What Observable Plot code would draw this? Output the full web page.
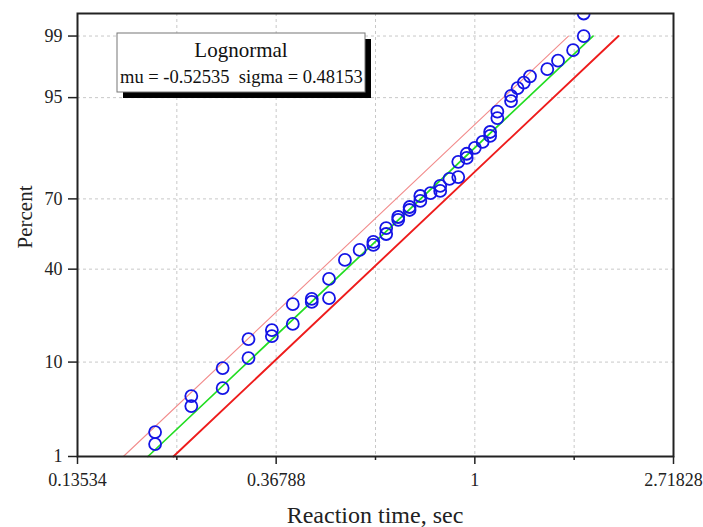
<!DOCTYPE html>
<html>
<head>
<meta charset="utf-8">
<script src="https://cdn.jsdelivr.net/npm/d3@7"></script>
<script src="https://cdn.jsdelivr.net/npm/@observablehq/plot@0.6"></script>
<style>
  html, body { margin: 0; padding: 0; background: #fff; }
  #chart { position: relative; width: 703px; height: 527px; }
</style>
</head>
<body>
<div id="chart"></div>
<script>
// ---- Data ----
const reactionTimes = [
  0.200, 0.200, 0.240, 0.240, 0.281, 0.281, 0.320, 0.320, 0.360, 0.360,
  0.400, 0.400, 0.440, 0.440, 0.480, 0.480, 0.520, 0.560, 0.600, 0.600,
  0.640, 0.640, 0.680, 0.680, 0.720, 0.720, 0.760, 0.760, 0.800, 0.840,
  0.840, 0.880, 0.920, 0.920, 0.960, 0.960, 1.000, 1.040, 1.080, 1.080,
  1.120, 1.120, 1.200, 1.200, 1.240, 1.280, 1.320, 1.440, 1.520, 1.640,
  1.730, 1.730
];
const percents = [
  1.43, 1.99, 3.85, 4.87, 5.83, 8.89, 10.8, 15.2, 16.0, 17.7,
  19.5, 26.1, 26.9, 28.0, 28.3, 35.9, 44.0, 48.4, 50.6, 51.9,
  55.4, 58.0, 61.5, 62.7, 65.6, 66.8, 69.2, 71.1, 72.2, 73.0,
  74.8, 77.2, 77.8, 82.5, 83.6, 84.7, 86.2, 87.6, 88.9, 89.7,
  92.2, 93.2, 94.6, 95.2, 96.0, 96.5, 97.0, 97.5, 98.0, 98.5,
  99.0, 99.5
];

// fitted lognormal line and the two parallel lines beside it
const lineNames  = ["lower", "fit", "upper"];
const lineMu     = [-0.649, -0.52535, -0.397];
const lineSigma  = [0.48153, 0.48153, 0.48153];
const lineRange  = [1, 99];          // percent range each line spans

const xTickValues = [Math.exp(-2), Math.exp(-1), 1, Math.exp(1)];
const xTickLabels = ["0.13534", "0.36788", "1", "2.71828"];
const xMinorTicks = [Math.exp(-1.5), Math.exp(-0.5), Math.exp(0.5)];
const yTickPercents = [1, 10, 40, 70, 95, 99];
const yDomainPercent = [1, 99.5];

const legendTitle = "Lognormal";
const legendText = "mu = -0.52535\u00A0\u00A0sigma = 0.48153";

// ---- helpers ----
function probit(p) {
  const a=[-3.969683028665376e+01,2.209460984245205e+02,-2.759285104469687e+02,1.383577518672690e+02,-3.066479806614716e+01,2.506628277459239e+00];
  const b=[-5.447609879822406e+01,1.615858368580409e+02,-1.556989798598866e+02,6.680131188771972e+01,-1.328068155288572e+01];
  const c=[-7.784894002430293e-03,-3.223964580411365e-01,-2.400758277161838e+00,-2.549671875111488e+00,4.374664141464968e+00,2.938163982698783e+00];
  const d=[7.784695709041462e-03,3.224671290700398e-01,2.445134137142996e+00,3.754408661907416e+00];
  const plow = 0.02425, phigh = 1 - plow;
  let q, r;
  if (p < plow) {
    q = Math.sqrt(-2 * Math.log(p));
    return (((((c[0]*q+c[1])*q+c[2])*q+c[3])*q+c[4])*q+c[5]) / ((((d[0]*q+d[1])*q+d[2])*q+d[3])*q+1);
  }
  if (p > phigh) {
    q = Math.sqrt(-2 * Math.log(1 - p));
    return -(((((c[0]*q+c[1])*q+c[2])*q+c[3])*q+c[4])*q+c[5]) / ((((d[0]*q+d[1])*q+d[2])*q+d[3])*q+1);
  }
  q = p - 0.5; r = q * q;
  return (((((a[0]*r+a[1])*r+a[2])*r+a[3])*r+a[4])*r+a[5])*q / (((((b[0]*r+b[1])*r+b[2])*r+b[3])*r+b[4])*r+1);
}
const z = (pct) => probit(pct / 100);

const points = reactionTimes.map((t, i) => ({t, z: z(percents[i])}));

const lineData = [];
lineNames.forEach((name, i) => {
  lineRange.forEach(pct => {
    const zz = z(pct);
    lineData.push({name, t: Math.exp(lineMu[i] + lineSigma[i] * zz), z: zz});
  });
});
const lineStyle = {
  lower: {stroke: "#f28c8c", strokeWidth: 1.1},
  fit:   {stroke: "#22dd22", strokeWidth: 1.7},
  upper: {stroke: "#ee1c1c", strokeWidth: 1.9}
};

const yTicksZ = yTickPercents.map(z);
const allXGrid = [...xTickValues, ...xMinorTicks];

function xLabel(d) {
  let best = 0;
  xTickValues.forEach((v, i) => { if (Math.abs(Math.log(v) - Math.log(d)) < Math.abs(Math.log(xTickValues[best]) - Math.log(d))) best = i; });
  return xTickLabels[best];
}
function yLabel(d) {
  let best = 0;
  yTicksZ.forEach((v, i) => { if (Math.abs(v - d) < Math.abs(yTicksZ[best] - d)) best = i; });
  return String(yTickPercents[best]);
}

const serif = "'Liberation Serif', 'Times New Roman', serif";

const plot = Plot.plot({
  width: 703,
  height: 527,
  marginLeft: 77,
  marginRight: 30,
  marginTop: 13,
  marginBottom: 71,
  style: {fontFamily: serif, fontSize: "18px", color: "#222", background: "#fff"},
  x: {type: "log", domain: [Math.exp(-2), Math.exp(1)], axis: null},
  y: {type: "linear", domain: yDomainPercent.map(z), axis: null},
  marks: [
    Plot.gridX(allXGrid, {stroke: "#c8c8c8", strokeOpacity: 1, strokeDasharray: "3,3"}),
    Plot.gridY(yTicksZ, {stroke: "#c8c8c8", strokeOpacity: 1, strokeDasharray: "3,3"}),
    ...lineNames.map(name => Plot.line(lineData.filter(d => d.name === name), {x: "t", y: "z", ...lineStyle[name]})),
    Plot.dot(points, {x: "t", y: "z", r: 6, stroke: "#1414e6", strokeWidth: 1.8, fill: "none", clip: true}),
    Plot.frame({stroke: "#222", strokeWidth: 2}),
    Plot.axisX(xTickValues, {tickSize: 8, tickPadding: 9, tickFormat: xLabel, stroke: "#222", strokeWidth: 1.5, label: null, fill: "#222", fontSize: 18, fontFamily: serif}),
    Plot.axisX(xMinorTicks, {tickSize: 4, tickFormat: () => "", stroke: "#222", strokeWidth: 1.5, label: null}),
    Plot.axisY(yTicksZ, {tickSize: 9, tickPadding: 6, tickFormat: yLabel, stroke: "#222", strokeWidth: 1.5, label: null, fill: "#222", fontSize: 18, fontFamily: serif})
  ]
});

document.getElementById("chart").appendChild(plot);

// titles and legend box
const svg = d3.select(plot);
svg.append("text")
  .attr("x", 375).attr("y", 523)
  .attr("text-anchor", "middle")
  .style("font-family", serif)
  .style("font-size", "24px").style("fill", "#222")
  .text("Reaction time, sec");
svg.append("text")
  .attr("transform", "translate(32,217) rotate(-90)")
  .attr("text-anchor", "middle")
  .style("font-family", serif)
  .style("font-size", "21px").style("fill", "#222")
  .text("Percent");

const lg = svg.append("g");
lg.append("rect").attr("x", 123).attr("y", 39).attr("width", 248).attr("height", 59).attr("fill", "#000");
lg.append("rect").attr("x", 117).attr("y", 33).attr("width", 248).attr("height", 59)
  .attr("fill", "#fff").attr("stroke", "#777").attr("stroke-width", 1);
lg.append("text").attr("x", 241).attr("y", 57).attr("text-anchor", "middle")
  .style("font-family", serif)
  .style("font-size", "21px").style("fill", "#111").text(legendTitle);
lg.append("text").attr("x", 120).attr("y", 83).attr("text-anchor", "start")
  .style("font-family", serif)
  .style("font-size", "18.5px").style("fill", "#111").text(legendText);
</script>
</body>
</html>
